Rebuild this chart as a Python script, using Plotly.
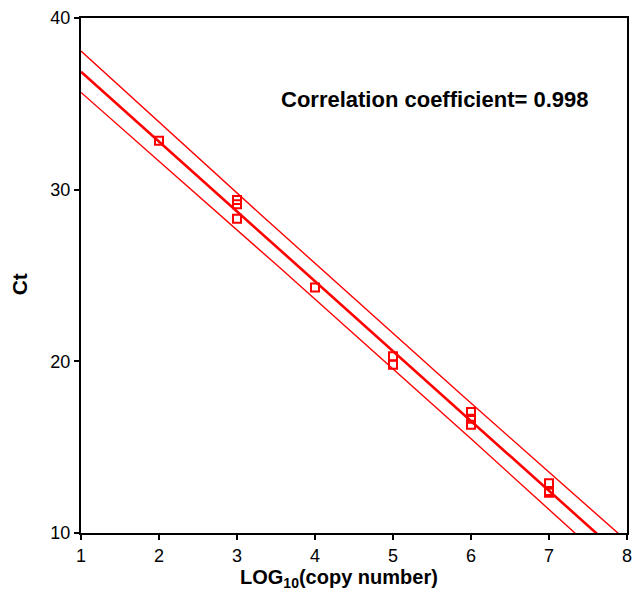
import numpy as np
import plotly.graph_objects as go

# Data
log_copy = [2, 3, 3, 3, 4, 5, 5, 6, 6, 6, 7, 7, 7]
ct_values = [32.85, 29.4, 29.15, 28.3, 24.3, 20.3, 19.8, 17.05, 16.65, 16.3, 12.9, 12.45, 12.35]
x_ticks = [1, 2, 3, 4, 5, 6, 7, 8]
y_ticks = [10, 20, 30, 40]
annotation_text = "Correlation coefficient= 0.998"
x_title = "LOG<sub>10</sub>(copy number)"
y_title = "Ct"

x = np.array(log_copy, dtype=float)
y = np.array(ct_values, dtype=float)
n = len(x)
slope, intercept = np.polyfit(x, y, 1)
resid = y - (slope * x + intercept)
s = np.sqrt(np.sum(resid ** 2) / (n - 2))
t_val = 2.201  # t(0.975, df=11)
xs = np.linspace(1, 8, 141)
fit = slope * xs + intercept
sxx = np.sum((x - x.mean()) ** 2)
half = t_val * s * np.sqrt(1 + 1 / n + (xs - x.mean()) ** 2 / sxx)

RED = "#ff0000"
FONT = "Liberation Sans, Arial, sans-serif"
fig = go.Figure()
fig.add_trace(go.Scatter(x=xs, y=fit + half, mode="lines", line=dict(color=RED, width=1.4), hoverinfo="skip"))
fig.add_trace(go.Scatter(x=xs, y=fit - half, mode="lines", line=dict(color=RED, width=1.4), hoverinfo="skip"))
fig.add_trace(go.Scatter(x=xs, y=fit, mode="lines", line=dict(color=RED, width=2.6), hoverinfo="skip"))
fig.add_trace(go.Scatter(x=log_copy, y=ct_values, mode="markers",
                         marker=dict(symbol="square-open", size=8, color=RED, line=dict(width=2, color=RED))))

fig.add_annotation(x=0.649, y=0.841, xref="paper", yref="paper", xanchor="center", yanchor="middle",
                   text="<b>" + annotation_text + "</b>", showarrow=False,
                   font=dict(family=FONT, size=22, color="black"))
fig.add_annotation(x=0.473, y=-0.089, xref="paper", yref="paper", xanchor="center", yanchor="middle",
                   text="<b>" + x_title + "</b>", showarrow=False,
                   font=dict(family=FONT, size=20, color="black"))
fig.add_annotation(x=-0.1125, y=0.482, xref="paper", yref="paper", xanchor="center", yanchor="middle",
                   text="<b>" + y_title + "</b>", showarrow=False, textangle=-90,
                   font=dict(family=FONT, size=21, color="black"))

axis_common = dict(showgrid=False, zeroline=False, ticks="outside", ticklen=5, tickwidth=2,
                   tickcolor="black", showline=True, linecolor="black", linewidth=2, mirror=True,
                   ticklabeloverflow="allow",
                   tickfont=dict(family=FONT, size=18, color="black"))
fig.update_xaxes(range=[1, 8], tickvals=x_ticks, **axis_common)
fig.update_yaxes(range=[10, 40], tickvals=y_ticks, **axis_common)
fig.update_layout(width=635, height=603, margin=dict(l=81, r=3, t=18, b=70),
                  plot_bgcolor="white", paper_bgcolor="white", showlegend=False)
fig.write_html("out.html")
